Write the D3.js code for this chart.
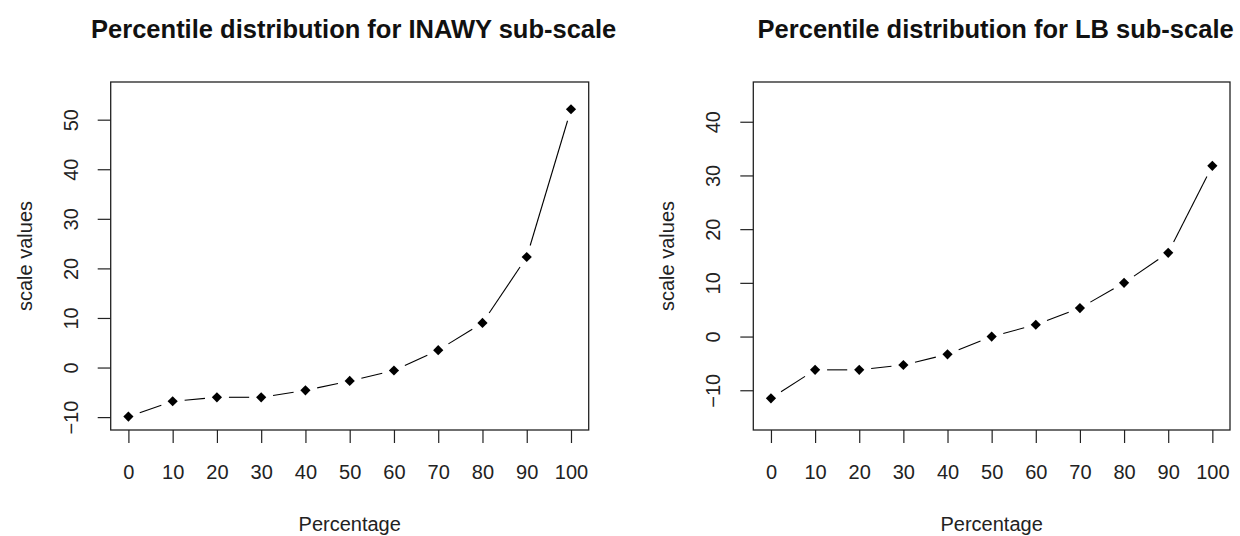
<!DOCTYPE html>
<html>
<head>
<meta charset="utf-8">
<script src="https://cdn.jsdelivr.net/npm/d3@7"></script>
<style>
  html, body { margin: 0; padding: 0; background: #fff; }
  svg { display: block; font-family: "Liberation Sans", Arial, sans-serif; }
</style>
</head>
<body>
<svg id="chart" width="1240" height="536"></svg>
<script>
var percentages = [0, 10, 20, 30, 40, 50, 60, 70, 80, 90, 100];
var inawyValues = [-9.9, -6.8, -6.0, -6.0, -4.6, -2.7, -0.6, 3.5, 9.0, 22.3, 52.1];
var lbValues = [-11.5, -6.2, -6.2, -5.3, -3.3, 0.0, 2.2, 5.3, 10.0, 15.6, 31.8];
var xTicks = [0, 10, 20, 30, 40, 50, 60, 70, 80, 90, 100];
var inawyTicks = [-10, 0, 10, 20, 30, 40, 50];
var lbTicks = [-10, 0, 10, 20, 30, 40];

var panels = [
    { title: "Percentile distribution for INAWY sub-scale", values: inawyValues, ticks: inawyTicks, ylim: [-10, 55], left: 110.7, right: 588.7 },
    { title: "Percentile distribution for LB sub-scale", values: lbValues, ticks: lbTicks, ylim: [-15, 45], left: 753.3, right: 1230 }
];

var svg = d3.select("#chart");
var plotTop = 82, plotBottom = 430;

// R style range extension (4% each side)
function extend(lim) {
    var d = (lim[1] - lim[0]) * 0.04;
    return [lim[0] - d, lim[1] + d];
}

function drawPanel(p) {
    var g = svg.append("g");

    var x = d3.scaleLinear().domain(extend([0, 100])).range([p.left, p.right]);
    var y = d3.scaleLinear().domain(extend(p.ylim)).range([plotBottom, plotTop]);

    // x axis ticks
    var xAxis = g.append("g")
        .attr("transform", "translate(0," + plotBottom + ")")
        .call(d3.axisBottom(x).tickValues(xTicks).tickSize(13).tickSizeOuter(0));
    xAxis.select(".domain").remove();
    xAxis.selectAll("line").attr("stroke", "#222").attr("stroke-width", 1.2);
    xAxis.selectAll("text")
        .attr("dy", null)
        .attr("y", 49)
        .style("font-size", "20px")
        .attr("fill", "#222");

    // y axis ticks, labels rotated like R
    var yAxis = g.append("g")
        .attr("transform", "translate(" + p.left + ",0)")
        .call(d3.axisLeft(y).tickValues(p.ticks).tickSize(13).tickSizeOuter(0).tickFormat(function(d) {
            return d < 0 ? "\u2212" + Math.abs(d) : d;
        }));
    yAxis.select(".domain").remove();
    yAxis.selectAll("line").attr("stroke", "#222").attr("stroke-width", 1.2);
    yAxis.selectAll("text")
        .attr("x", null)
        .attr("dy", null)
        .attr("text-anchor", "middle")
        .attr("transform", "translate(-33,0) rotate(-90)")
        .style("font-size", "20px")
        .attr("fill", "#222");

    // plot box
    g.append("rect")
        .attr("x", p.left)
        .attr("y", plotTop)
        .attr("width", p.right - p.left)
        .attr("height", plotBottom - plotTop)
        .attr("fill", "none")
        .attr("stroke", "#222")
        .attr("stroke-width", 1.3);

    // type = "b" lines: segments with gaps around points
    var pts = percentages.map(function(d, i) { return [x(d), y(p.values[i])]; });
    var gap = 12;
    for (var i = 0; i < pts.length - 1; i++) {
        var a = pts[i], b = pts[i + 1];
        var dx = b[0] - a[0], dy = b[1] - a[1];
        var len = Math.sqrt(dx * dx + dy * dy);
        if (len <= gap * 2) continue;
        var ux = dx / len, uy = dy / len;
        g.append("line")
            .attr("x1", a[0] + ux * gap)
            .attr("y1", a[1] + uy * gap)
            .attr("x2", b[0] - ux * gap)
            .attr("y2", b[1] - uy * gap)
            .attr("stroke", "#000")
            .attr("stroke-width", 1.1);
    }

    // pch 18 diamonds
    g.selectAll(".pt")
        .data(percentages)
        .enter().append("path")
        .attr("class", "pt")
        .attr("d", d3.symbol().type(d3.symbolSquare).size(52))
        .attr("transform", function(d, i) {
            return "translate(" + x(d) + "," + y(p.values[i]) + ") rotate(45)";
        })
        .attr("fill", "#000");

    var cx = (p.left + p.right) / 2;

    g.append("text")
        .attr("x", cx + 4)
        .attr("y", 38)
        .attr("text-anchor", "middle")
        .style("font-size", "25.5px")
        .style("font-weight", "bold")
        .attr("fill", "#111")
        .text(p.title);

    g.append("text")
        .attr("x", cx)
        .attr("y", 531)
        .attr("text-anchor", "middle")
        .style("font-size", "20px")
        .attr("fill", "#222")
        .text("Percentage");

    g.append("text")
        .attr("transform", "translate(" + (p.left - 79) + "," + ((plotTop + plotBottom) / 2) + ") rotate(-90)")
        .attr("text-anchor", "middle")
        .style("font-size", "20px")
        .attr("fill", "#222")
        .text("scale values");
}

panels.forEach(drawPanel);
</script>
</body>
</html>
